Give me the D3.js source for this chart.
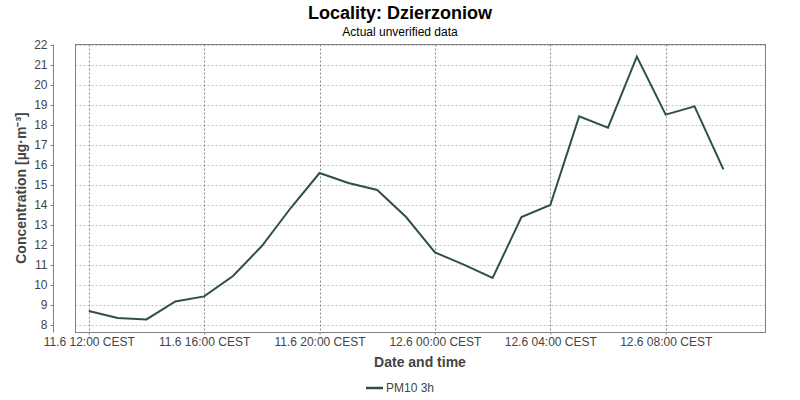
<!DOCTYPE html>
<html><head><meta charset="utf-8">
<script src="https://cdn.jsdelivr.net/npm/d3@7"></script>
<style>body{margin:0;background:#fff}text{font-family:"Liberation Sans",Arial,sans-serif}</style>
</head><body><svg id="c" width="800" height="400"></svg>
<script>
const title = "Locality: Dzierzoniow";
const subtitle = "Actual unverified data";
const seriesName = "PM10 3h";
const hours = [0,1,2,3,4,5,6,7,8,9,10,11,12,13,14,15,16,17,18,19,20,21,22];
const values = [8.7,8.35,8.28,9.18,9.43,10.45,11.95,13.85,15.6,15.1,14.75,13.4,11.63,11.02,10.35,13.4,14.0,18.43,17.87,21.42,18.52,18.93,15.78];
const yTicks = [8,9,10,11,12,13,14,15,16,17,18,19,20,21,22];
const xTickHours = [0,4,8,12,16,20];
const start = Date.UTC(2024,5,11,12);
const H = 3600e3;

const svg = d3.select("#c");
const L = 75.5, R = 765.5, T = 44.5, B = 332.5;
const x = d3.scaleUtc().domain([new Date(start-0.46*H), new Date(start+23.46*H)]).range([L,R]);
const y = d3.scaleLinear().domain([7.625, 22.025]).range([B,T]);

svg.append("text").attr("x",400).attr("y",19).attr("text-anchor","middle")
  .attr("font-size",18).attr("font-weight","bold").text(title);
svg.append("text").attr("x",400).attr("y",36).attr("text-anchor","middle")
  .attr("font-size",12).text(subtitle);

// grid
svg.append("g").selectAll("line").data(yTicks).join("line")
  .attr("x1",L).attr("x2",R).attr("y1",d=>Math.round(y(d))+0.5).attr("y2",d=>Math.round(y(d))+0.5)
  .attr("stroke","#c4c4c4").attr("stroke-width",1).attr("stroke-dasharray","2,2");
const xt = xTickHours.map(h=>new Date(start+h*H));
svg.append("g").selectAll("line").data(xt).join("line")
  .attr("x1",d=>Math.round(x(d))+0.5).attr("x2",d=>Math.round(x(d))+0.5).attr("y1",T).attr("y2",B)
  .attr("stroke","#8a8a8a").attr("stroke-width",1).attr("stroke-dasharray","2,2");

// border
svg.append("rect").attr("x",L).attr("y",T).attr("width",R-L).attr("height",B-T)
  .attr("fill","none").attr("stroke","#808080");

// y axis
const yAxis = d3.axisLeft(y).tickValues(yTicks).tickSize(3).tickPadding(3).tickSizeOuter(0);
const gy = svg.append("g").attr("transform","translate(53.5,0)").call(yAxis);
gy.select(".domain").attr("stroke","#808080").attr("d",`M0,${T}V${B}`);
gy.selectAll(".tick line").attr("stroke","#808080");
gy.selectAll("text").attr("font-size",12).attr("fill","#444").attr("font-family","Liberation Sans,Arial,sans-serif");

// x axis
const fmt = d => `${d.getUTCDate()}.${d.getUTCMonth()+1} ${d3.utcFormat("%H:%M")(d)} CEST`;
const xAxis = d3.axisBottom(x).tickValues(xt).tickFormat(fmt).tickSize(2).tickPadding(3).tickSizeOuter(0);
const gx = svg.append("g").attr("transform",`translate(0,${B})`).call(xAxis);
gx.select(".domain").remove();
gx.selectAll(".tick line").attr("stroke","#808080");
gx.selectAll("text").attr("font-size",12).attr("fill","#444").attr("font-family","Liberation Sans,Arial,sans-serif");

// axis labels
svg.append("text").attr("x",420).attr("y",367).attr("text-anchor","middle")
  .attr("font-size",14).attr("font-weight","bold").attr("fill","#444").text("Date and time");
svg.append("text").attr("transform","translate(26,188) rotate(-90)").attr("text-anchor","middle")
  .attr("font-size",14).attr("font-weight","bold").attr("fill","#444").text("Concentration [µg·m⁻³]");

// line
const line = d3.line().x((d,i)=>x(new Date(start+hours[i]*H))).y(d=>y(d));
svg.append("path").datum(values).attr("d",line).attr("fill","none")
  .attr("stroke","#2f4f4f").attr("stroke-width",2).attr("stroke-linejoin","miter");

// legend
svg.append("line").attr("x1",366).attr("x2",383).attr("y1",388).attr("y2",388)
  .attr("stroke","#2f4f4f").attr("stroke-width",2.5);
svg.append("text").attr("x",386).attr("y",392).attr("font-size",12).attr("fill","#444").text(seriesName);
</script></body></html>
